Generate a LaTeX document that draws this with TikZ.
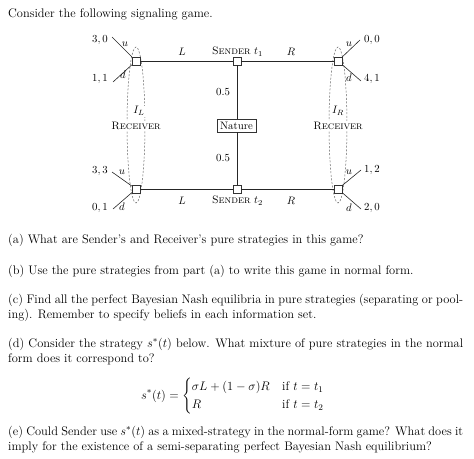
\RequirePackage{fix-cm}
\documentclass[tikz,border=0pt,12pt]{standalone}
\usepackage{amsmath}
\begin{document}
\begin{tikzpicture}[x=1pt,y=-1pt,
  every node/.style={font=\fontsize{10.8}{13}\selectfont},
  dnode/.style={draw=black!80, fill=white, minimum size=8pt, inner sep=0pt},
  edge/.style={draw=black!85, line width=0.6pt},
  infoset/.style={draw=black!60, dash pattern=on 2pt off 1.6pt, line width=0.5pt},
  lbl/.style={inner sep=0pt},
  para/.style={anchor=base west, inner sep=0pt, text width=455pt, align=justify, font=\fontsize{12.4}{15}\selectfont}]
\useasboundingbox (0,0) rectangle (474,458);

% information sets
\draw[infoset] (136,125) ellipse [x radius=9pt, y radius=78pt];
\draw[infoset] (338,125) ellipse [x radius=9pt, y radius=78pt];

% decision nodes
\node[dnode] (L1) at (136,61) {};
\node[dnode] (S1) at (237,61) {};
\node[dnode] (R1) at (338,61) {};
\node[dnode] (L2) at (136,189) {};
\node[dnode] (S2) at (237,189) {};
\node[dnode] (R2) at (338,189) {};
\node[draw=black!80, fill=white, inner xsep=3pt, inner ysep=2.5pt] (N) at (236.5,125.5) {Nature};

% branch ends
\coordinate (a1) at (112,37);
\coordinate (a2) at (113,82);
\coordinate (b1) at (112,172);
\coordinate (b2) at (113,209);
\coordinate (c1) at (360,40);
\coordinate (c2) at (361,81);
\coordinate (e1) at (361,170);
\coordinate (e2) at (361,209);

% edges
\draw[edge] (L1) -- (S1);
\draw[edge] (S1) -- (R1);
\draw[edge] (L2) -- (S2);
\draw[edge] (S2) -- (R2);
\draw[edge] (S1) -- (S1 |- N.north);
\draw[edge] (S2) -- (S2 |- N.south);
\draw[edge] (L1) -- (a1);
\draw[edge] (L1) -- (a2);
\draw[edge] (L2) -- (b1);
\draw[edge] (L2) -- (b2);
\draw[edge] (R1) -- (c1);
\draw[edge] (R1) -- (c2);
\draw[edge] (R2) -- (e1);
\draw[edge] (R2) -- (e2);

% payoffs
\node[lbl] (p1) at (100,40) {$3,0$};
\node[lbl] (p2) at (100,79) {$1,1$};
\node[lbl] (p3) at (100,171) {$3,3$};
\node[lbl] (p4) at (100,208) {$0,1$};
\node[lbl] (p5) at (372,40) {$0,0$};
\node[lbl] (p6) at (372,79) {$4,1$};
\node[lbl] (p7) at (372,170) {$1,2$};
\node[lbl] (p8) at (372,208) {$2,0$};

% action labels
\node[lbl] (u1) at (125,44) {$u$};
\node[lbl] (d1) at (123,75) {$d$};
\node[lbl] (u2) at (122,172) {$u$};
\node[lbl] (d2) at (122,207) {$d$};
\node[lbl] (u3) at (349,44) {$u$};
\node[lbl] (d3) at (349,78) {$d$};
\node[lbl] (u4) at (349,172) {$u$};
\node[lbl] (d4) at (349,208) {$d$};
\node[lbl] (l1) at (182,52) {$L$};
\node[lbl] (r1) at (291,52) {$R$};
\node[lbl] (l2) at (182,201) {$L$};
\node[lbl] (r2) at (291,201) {$R$};
\node[lbl] (st1) at (237.5,52) {\textsc{Sender} $t_1$};
\node[lbl] (st2) at (237.5,201) {\textsc{Sender} $t_2$};
\node[lbl] (h1) at (223,92) {$0.5$};
\node[lbl] (h2) at (223,158) {$0.5$};
\node[lbl, fill=white, inner sep=1pt] (il) at (139,111) {$I_L$};
\node[lbl, fill=white, inner sep=1pt] (rl) at (136,126) {\textsc{Receiver}};
\node[lbl, fill=white, inner sep=1pt] (ir) at (338,111) {$I_R$};
\node[lbl, fill=white, inner sep=1pt] (rr) at (338,126) {\textsc{Receiver}};

% text
\node[para] (t0) at (8,17) {Consider the following signaling game.};
\node[para] (ta) at (8,243) {(a) What are Sender's and Receiver's pure strategies in this game?};
\node[para] (tb) at (8,274) {(b) Use the pure strategies from part (a) to write this game in normal form.};
\node[para] (tc) at (8,303) {(c) Find all the perfect Bayesian Nash equilibria in pure strategies (separating or pool-\linebreak ing). Remember to specify beliefs in each information set.};
\node[para] (td) at (8,347) {(d) Consider the strategy $s^*(t)$ below. What mixture of pure strategies in the normal\linebreak form does it correspond to?};
\node[lbl, font=\fontsize{12.4}{15}\selectfont] (eq) at (233,396) {$\displaystyle s^*(t)=\begin{cases}\sigma L+(1-\sigma)R & \text{if } t=t_1\\ R & \text{if } t=t_2\end{cases}$};
\node[para] (te) at (8,435) {(e) Could Sender use $s^*(t)$ as a mixed-strategy in the normal-form game? What does it\linebreak imply for the existence of a semi-separating perfect Bayesian Nash equilibrium?};
\end{tikzpicture}
\end{document}
